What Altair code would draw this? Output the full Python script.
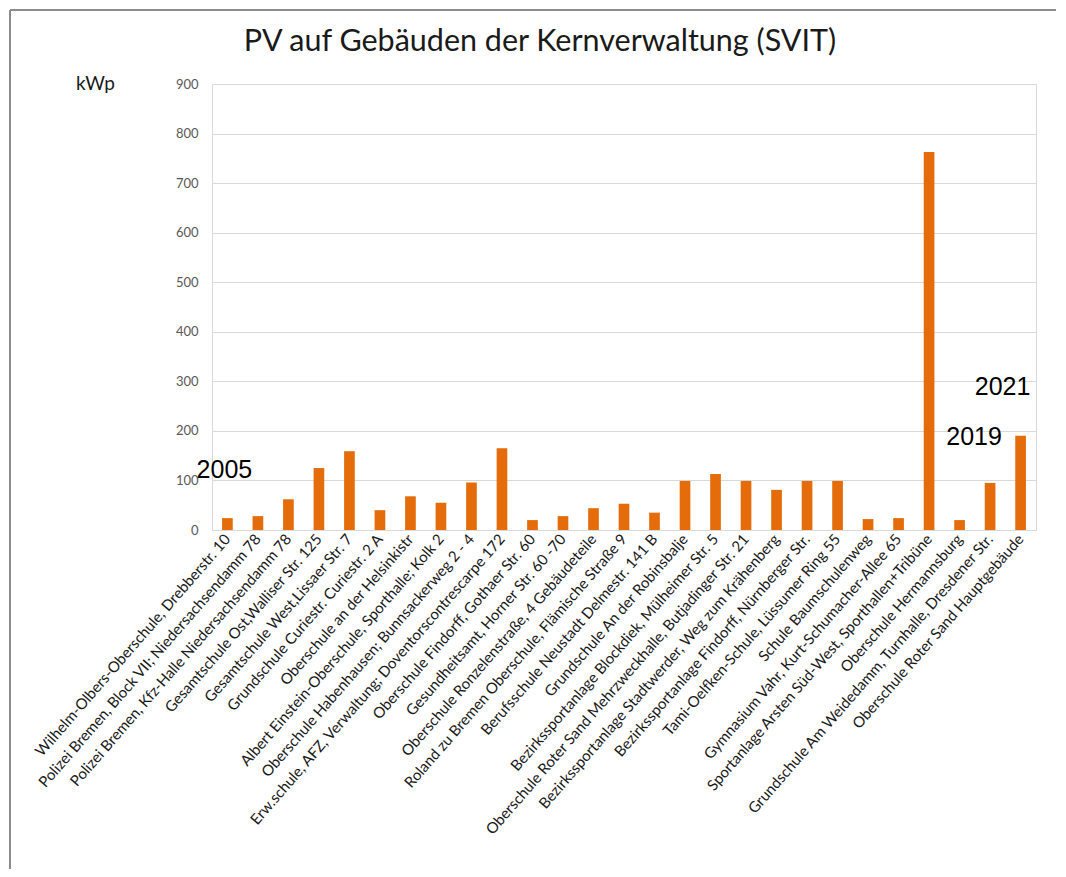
import altair as alt
import pandas as pd

categories = [
    "Wilhelm-Olbers-Oberschule, Drebberstr. 10",
    "Polizei Bremen, Block VII; Niedersachsendamm 78",
    "Polizei Bremen, Kfz-Halle Niedersachsendamm 78",
    "Gesamtschule Ost,Walliser Str. 125",
    "Gesamtschule West,Lissaer Str. 7",
    "Grundschule Curiestr. Curiestr. 2 A",
    "Oberschule an der Helsinkistr",
    "Albert Einstein-Oberschule, Sporthalle; Kolk 2",
    "Oberschule Habenhausen; Bunnsackerweg 2 - 4",
    "Erw.schule, AFZ, Verwaltung; Doventorscontrescarpe 172",
    "Oberschule Findorff, Gothaer Str. 60",
    "Gesundheitsamt, Horner Str. 60 -70",
    "Oberschule Ronzelenstraße, 4 Gebäudeteile",
    "Roland zu Bremen Oberschule, Flämische Straße 9",
    "Berufsschule Neustadt Delmestr. 141 B",
    "Grundschule An der Robinsbalje",
    "Bezirkssportanlage Blockdiek, Mülheimer Str. 5",
    "Oberschule Roter Sand Mehrzweckhalle, Butjadinger Str. 21",
    "Bezirkssportanlage Stadtwerder, Weg zum Krähenberg",
    "Bezirkssportanlage Findorff, Nürnberger Str.",
    "Tami-Oelfken-Schule, Lüssumer Ring 55",
    "Schule Baumschulenweg",
    "Gymnasium Vahr, Kurt-Schumacher-Allee 65",
    "Sportanlage Arsten Süd-West, Sporthallen+Tribüne",
    "Oberschule Hermannsburg",
    "Grundschule Am Weidedamm, Turnhalle, Dresdener Str.",
    "Oberschule Roter Sand Hauptgebäude",
]
kwp = [24, 28, 62, 125, 159, 40, 68, 55, 96, 165, 20, 28, 44, 53, 35,
       99, 113, 99, 81, 99, 99, 22, 24, 763, 20, 95, 190]

y_ticks = [0, 100, 200, 300, 400, 500, 600, 700, 800, 900]

ann_cat = [categories[0], categories[25], categories[26]]
ann_val = [121, 188, 289]
ann_text = ["2005", "2019", "2021"]

title_text = ["PV auf Gebäuden der Kernverwaltung (SVIT)"]

df = pd.DataFrame({"cat": categories, "kwp": kwp})
ann = pd.DataFrame({"cat": ann_cat, "kwp": ann_val, "label": ann_text})
title_df = pd.DataFrame({"t": title_text})

FONT = "Lato"

x_enc = alt.X(
    "cat:N",
    sort=categories,
    scale=alt.Scale(paddingInner=0.65, paddingOuter=0.33),
    axis=alt.Axis(
        title=None,
        labelAngle=-49,
        labelAlign="right",
        labelBaseline="middle",
        labelFont=FONT,
        labelFontSize=15,
        labelColor="#1a1a1a",
        labelPadding=6,
        labelLimit=600,
        ticks=False,
        domainColor="#d9d9d9",
        labelOverlap=False,
    ),
)
y_enc = alt.Y(
    "kwp:Q",
    scale=alt.Scale(domain=[0, 900], nice=False),
    axis=alt.Axis(
        values=y_ticks,
        title="kWp",
        titleAngle=0,
        titleX=-117,
        titleY=-1,
        titleAlign="center",
        titleBaseline="middle",
        titleFont=FONT,
        titleFontSize=19,
        titleFontWeight="normal",
        titleColor="#1a1a1a",
        labelFont=FONT,
        labelFontSize=13,
        labelColor="#595959",
        labelPadding=14,
        ticks=False,
        domain=False,
        gridColor="#d9d9d9",
    ),
)

bars = alt.Chart(df).mark_bar(color="#E46C0A").encode(x=x_enc, y=y_enc)


def ann_layer(i, dx):
    return alt.Chart(ann.iloc[[i]]).mark_text(
        font="Liberation Sans", fontSize=25, color="#000000", baseline="middle", dx=dx
    ).encode(x=alt.X("cat:N", sort=categories), y="kwp:Q", text="label:N")


lab2005 = ann_layer(0, -3)
lab2019 = ann_layer(1, -16)
lab2021 = ann_layer(2, -18)

title = alt.Chart(title_df).mark_text(
    font=FONT, fontSize=30.5, color="#1a1a1a", align="center", baseline="middle"
).encode(x=alt.value(328), y=alt.value(-42), text="t:N")

frame_df = pd.DataFrame({"a": [0]})
frame_left = alt.Chart(frame_df).mark_rule(color="#8c8c8c", strokeWidth=2).encode(
    x=alt.value(-202), y=alt.value(-74), y2=alt.value(800)
)
frame_top = alt.Chart(frame_df).mark_rule(color="#8c8c8c", strokeWidth=2).encode(
    x=alt.value(-202), x2=alt.value(900), y=alt.value(-74)
)

chart = (
    alt.layer(bars, lab2005, lab2019, lab2021, title, frame_left, frame_top)
    .properties(
        width=824,
        height=446,
        autosize=alt.AutoSizeParams(type="none"),
        padding={"left": 204, "top": 76, "right": 20, "bottom": 339},
        background="white",
    )
    .configure_view(stroke="#d9d9d9")
)

chart.save("out.html", embed_options={"renderer": "svg", "actions": False})
